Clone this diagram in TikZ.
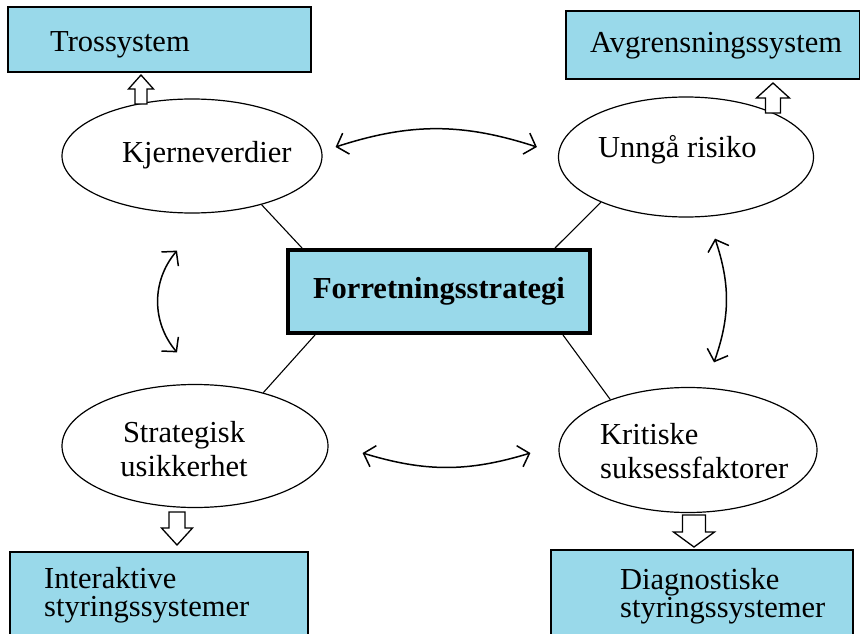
\documentclass[tikz,border=0pt]{standalone}
\usepackage{fontspec}
\setmainfont{Liberation Serif}
\usetikzlibrary{shapes.geometric}
\usetikzlibrary{calc}
\usetikzlibrary{arrows.meta}
\definecolor{boxblue}{RGB}{153,217,234}

% hollow block arrow: foot, tip, half shaft, half head, head length
\newcommand{\hollowarrow}[5]{%
  \draw[hollow] ($(#1)+(-#3,0)$) -- ($(#2)!#5pt!(#1)+(-#3,0)$)
    -- ($(#2)!#5pt!(#1)+(-#4,0)$) -- (#2)
    -- ($(#2)!#5pt!(#1)+(#4,0)$) -- ($(#2)!#5pt!(#1)+(#3,0)$)
    -- ($(#1)+(#3,0)$) -- cycle;}

\begin{document}
\begin{tikzpicture}[x=1pt,y=-1pt,
      every node/.style={font=\fontsize{30.5}{34}\selectfont},
      sysbox/.style={draw,line width=1.5pt,fill=boxblue,anchor=north west,outer sep=0pt},
      oval/.style={draw,ellipse,line width=1.2pt},
      txt/.style={inner sep=0pt,align=left},
      boxtxt/.style={inner sep=0pt,align=left,font=\fontsize{30.5}{28}\selectfont},
      link/.style={line width=1.1pt},
      mutual/.style={line width=1.5pt,
        {Straight Barb[length=10pt,width=22pt]}-{Straight Barb[length=10pt,width=22pt]}},
      hollow/.style={draw,line width=1.3pt,fill=white}]

  \useasboundingbox (0,0) rectangle (860,634);
  \clip (0,0) rectangle (860,634);

  % control systems
  \node[sysbox,minimum width=303pt,minimum height=65pt] (tros) at (8,7) {};
  \node[sysbox,minimum width=294pt,minimum height=68pt] (avgr) at (566,11) {};
  \node[sysbox,minimum width=298pt,minimum height=110pt] (inter) at (10,552) {};
  \node[sysbox,minimum width=302pt,minimum height=110pt] (diag) at (551,550) {};
  \node[txt,anchor=base west] (trostxt) at (50,52) {Trossystem};
  \node[txt,anchor=base west] (avgrtxt) at (590,53) {Avgrensningssystem};
  \node[boxtxt,anchor=west] (intertxt) at (44,595) {Interaktive\\styringssystemer};
  \node[boxtxt,anchor=west] (diagtxt) at (620,596) {Diagnostiske\\styringssystemer};

  % strategy
  \node[draw,line width=4pt,fill=boxblue,minimum width=302pt,minimum height=83pt,
        font=\fontsize{30.5}{34}\selectfont\bfseries] (strategi) at (439,291.5) {Forretningsstrategi};

  % ellipses
  \node[oval,minimum width=260pt,minimum height=114pt] (kjerne) at (192,156) {};
  \node[oval,minimum width=255pt,minimum height=120pt] (unnga) at (686,157) {};
  \node[oval,minimum width=266pt,minimum height=123pt] (strat) at (195,446) {};
  \node[oval,minimum width=258pt,minimum height=125pt] (krit) at (688,450) {};
  \node[txt,anchor=base west] (kjernetxt) at (122,162) {Kjerneverdier};
  \node[txt,anchor=base west] (unngatxt) at (598,157) {Unngå risiko};
  \node[txt,align=center] (strattxt) at (184,449) {Strategisk\\usikkerhet};
  \node[txt,anchor=west] (krittxt) at (600,451) {Kritiske\\suksessfaktorer};

  % links to the strategy
  \draw[link] (kjerne.-35) -- ([xshift=16pt]strategi.north west);
  \draw[link] (unnga.-152) -- ([xshift=-37pt]strategi.north east);
  \draw[link] (strat.38) -- ([xshift=29pt]strategi.south west);
  \draw[link] (krit.147) -- ([xshift=-29pt]strategi.south east);

  % curved arrows
  \draw[mutual] ([shift={(13,-9)}]kjerne.east) to[bend left=18] ([shift={(-21,-10)}]unnga.west);
  \draw[mutual] ([shift={(34,7)}]strat.east) to[bend right=17] ([shift={(-28,3)}]krit.west);
  \draw[mutual] ([shift={(-15,37)}]kjerne.south) to[bend right=40] ([shift={(-18,-31.5)}]strat.north);
  \draw[mutual] ([shift={(29,21)}]unnga.south) to[bend left=19] ([shift={(26,-24.5)}]krit.north);

  % block arrows
  \coordinate (trosfoot) at (141,104);
  \coordinate (trostip) at ($(tros.south -| trosfoot)+(0,3)$);
  \coordinate (avgrfoot) at (773,113);
  \coordinate (avgrtip) at ($(avgr.south -| avgrfoot)+(0,4)$);
  \coordinate (interfoot) at (177,512);
  \coordinate (intertip) at ($(inter.north -| interfoot)+(0,-7)$);
  \coordinate (diagfoot) at (694,515);
  \coordinate (diagtip) at ($(diag.north -| diagfoot)+(0,-3)$);
  \hollowarrow{trosfoot}{trostip}{6}{12.5}{14}
  \hollowarrow{avgrfoot}{avgrtip}{7.5}{16.5}{15}
  \hollowarrow{interfoot}{intertip}{8}{15.5}{17}
  \hollowarrow{diagfoot}{diagtip}{11.5}{20.5}{15}
\end{tikzpicture}
\end{document}
